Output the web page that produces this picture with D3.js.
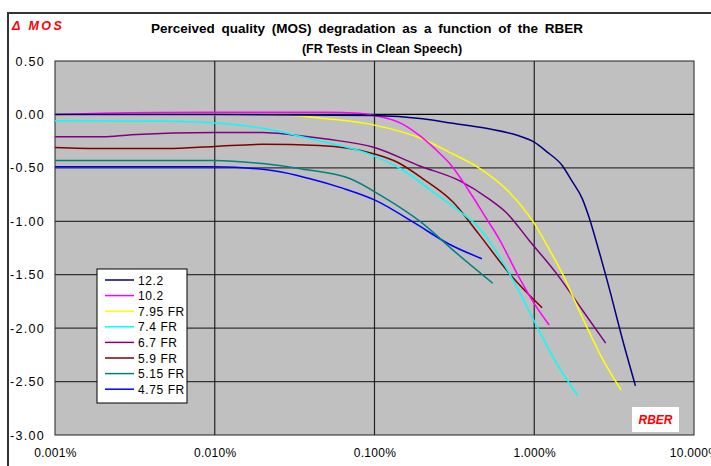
<!DOCTYPE html>
<html>
<head>
<meta charset="utf-8">
<script src="https://cdn.jsdelivr.net/npm/d3@7"></script>
<style>
  body { margin: 0; background: #fff; }
  text { font-family: "Liberation Sans", Arial, sans-serif; }
</style>
</head>
<body>
<svg id="chart" width="711" height="466"></svg>
<script>
// series names (legend order)
const seriesNames = ['12.2', '10.2', '7.95 FR', '7.4 FR', '6.7 FR', '5.9 FR', '5.15 FR', '4.75 FR'];
const seriesColors = ['#000080', '#ff00ff', '#ffff00', '#00ffff', '#800080', '#800000', '#008080', '#0000ff'];

// RBER (%) and delta MOS
const rber122 = [0.001, 0.01, 0.1, 0.2, 0.3, 0.5, 0.8, 1, 1.2, 1.5, 1.7, 2, 2.2, 2.5, 3, 3.5, 4.3];
const mos122  = [0, 0, -0.01, -0.04, -0.08, -0.13, -0.2, -0.26, -0.35, -0.48, -0.61, -0.79, -0.96, -1.24, -1.67, -2.06, -2.54];

const rber102 = [0.001, 0.002, 0.01, 0.05, 0.08, 0.1, 0.15, 0.2, 0.25, 0.3, 0.4, 0.5, 0.6, 0.8, 1, 1.24];
const mos102  = [0, 0.01, 0.02, 0.02, 0.01, -0.01, -0.09, -0.22, -0.35, -0.47, -0.74, -0.97, -1.16, -1.52, -1.77, -1.97];

const rber795 = [0.001, 0.01, 0.03, 0.05, 0.1, 0.2, 0.3, 0.45, 0.7, 1, 1.25, 1.5, 2, 2.7, 3.5];
const mos795  = [0, 0, -0.01, -0.04, -0.1, -0.23, -0.36, -0.5, -0.73, -1.02, -1.27, -1.49, -1.9, -2.3, -2.58];

const rber74 = [0.001, 0.005, 0.01, 0.02, 0.04, 0.1, 0.15, 0.25, 0.35, 0.45, 0.7, 0.8, 1.07, 1.38, 1.87];
const mos74  = [-0.06, -0.065, -0.08, -0.13, -0.23, -0.39, -0.52, -0.76, -0.92, -1.06, -1.49, -1.65, -2.02, -2.33, -2.63];

const rber67 = [0.001, 0.002, 0.003, 0.01, 0.02, 0.03, 0.05, 0.1, 0.19, 0.34, 0.52, 0.67, 0.93, 1.38, 2, 2.8];
const mos67  = [-0.21, -0.21, -0.19, -0.17, -0.17, -0.19, -0.23, -0.31, -0.48, -0.62, -0.79, -0.92, -1.18, -1.49, -1.83, -2.14];

const rber59 = [0.001, 0.002, 0.005, 0.01, 0.02, 0.045, 0.1, 0.14, 0.2, 0.31, 0.45, 0.7, 1.12];
const mos59  = [-0.31, -0.32, -0.32, -0.3, -0.28, -0.29, -0.37, -0.45, -0.6, -0.82, -1.12, -1.49, -1.81];

const rber515 = [0.001, 0.01, 0.02, 0.035, 0.07, 0.11, 0.2, 0.31, 0.55];
const mos515  = [-0.43, -0.43, -0.46, -0.51, -0.6, -0.76, -1.02, -1.27, -1.58];

const rber475 = [0.001, 0.01, 0.024, 0.039, 0.063, 0.1, 0.18, 0.29, 0.47];
const mos475  = [-0.49, -0.49, -0.53, -0.6, -0.69, -0.8, -1.02, -1.21, -1.35];

const xTicks = [0.001, 0.01, 0.1, 1, 10];
const yTicks = [0.5, 0, -0.5, -1, -1.5, -2, -2.5, -3];

const rberSets = [rber122, rber102, rber795, rber74, rber67, rber59, rber515, rber475];
const mosSets  = [mos122, mos102, mos795, mos74, mos67, mos59, mos515, mos475];

const series = seriesNames.map((name, i) => ({
  name: name,
  color: seriesColors[i],
  values: rberSets[i].map((r, j) => ({ r: r, m: mosSets[i][j] }))
}));

const margin = {top: 61, right: 17, bottom: 31, left: 55};
const W = 711, H = 466;

const svg = d3.select('#chart');

// outer chart frame
svg.append('path')
  .attr('d', 'M8,466 V13 H711')
  .attr('fill', 'none')
  .attr('stroke', '#333')
  .attr('stroke-width', 2);

const x = d3.scaleLog()
  .domain([0.001, 10])
  .range([margin.left, W - margin.right]);

const y = d3.scaleLinear()
  .domain([-3, 0.5])
  .range([H - margin.bottom, margin.top]);

// plot background
svg.append('rect')
  .attr('x', x(0.001))
  .attr('y', y(0.5))
  .attr('width', x(10) - x(0.001))
  .attr('height', y(-3) - y(0.5))
  .attr('fill', '#c0c0c0');

// grid
svg.append('g')
  .selectAll('line')
  .data(yTicks.slice(1, -1))
  .join('line')
    .attr('x1', x(0.001))
    .attr('x2', x(10))
    .attr('y1', d => y(d))
    .attr('y2', d => y(d))
    .attr('stroke', d => d === 0 ? '#000' : '#333')
    .attr('stroke-width', 1.2);

svg.append('g')
  .selectAll('line')
  .data(xTicks.slice(1, -1))
  .join('line')
    .attr('x1', d => x(d))
    .attr('x2', d => x(d))
    .attr('y1', y(0.5))
    .attr('y2', y(-3))
    .attr('stroke', '#222')
    .attr('stroke-width', 1.2);

// plot border
svg.append('rect')
  .attr('x', x(0.001))
  .attr('y', y(0.5))
  .attr('width', x(10) - x(0.001))
  .attr('height', y(-3) - y(0.5))
  .attr('fill', 'none')
  .attr('stroke', '#222')
  .attr('stroke-width', 1);

// axes
const xAxis = svg.append('g')
  .attr('transform', 'translate(0,' + y(-3) + ')')
  .call(d3.axisBottom(x)
    .tickValues(xTicks)
    .tickSize(0)
    .tickPadding(13)
    .tickFormat(d => d.toFixed(3) + '%'));
xAxis.select('.domain').remove();
xAxis.selectAll('text')
  .attr('font-size', 12)
  .attr('fill', '#000')
  .attr('letter-spacing', 0.3)
  .style('font-family', '"Liberation Sans", Arial, sans-serif');

const yAxis = svg.append('g')
  .attr('transform', 'translate(' + x(0.001) + ',0)')
  .call(d3.axisLeft(y)
    .tickValues(yTicks)
    .tickSize(0)
    .tickPadding(10)
    .tickFormat(d => d.toFixed(2)));
yAxis.select('.domain').remove();
yAxis.selectAll('text')
  .attr('font-size', 12.5)
  .attr('fill', '#000')
  .attr('letter-spacing', 1.3)
  .style('font-family', '"Liberation Sans", Arial, sans-serif');

// curves
const line = d3.line()
  .x(d => x(d.r))
  .y(d => y(d.m))
  .curve(d3.curveMonotoneX);

svg.append('g')
  .selectAll('path')
  .data(series.slice().reverse())
  .join('path')
    .attr('fill', 'none')
    .attr('stroke', d => d.color)
    .attr('stroke-width', 1.5)
    .attr('d', d => line(d.values));

// title
svg.append('text')
  .attr('x', 367)
  .attr('y', 33)
  .attr('text-anchor', 'middle')
  .attr('font-size', 13.5)
  .attr('font-weight', 'bold')
  .attr('word-spacing', 3)
  .text('Perceived quality (MOS) degradation as a function of the RBER');
svg.append('text')
  .attr('x', 382)
  .attr('y', 53)
  .attr('text-anchor', 'middle')
  .attr('font-size', 12.5)
  .attr('font-weight', 'bold')
  .text('(FR Tests in Clean Speech)');

// axis titles
svg.append('text')
  .attr('x', 12)
  .attr('y', 30)
  .attr('font-size', 12.5)
  .attr('font-weight', 'bold')
  .attr('font-style', 'italic')
  .attr('fill', '#ff0000')
  .attr('letter-spacing', 2.5)
  .text('\u0394  MOS');

svg.append('rect')
  .attr('x', 632)
  .attr('y', 407)
  .attr('width', 47)
  .attr('height', 25)
  .attr('fill', '#fff');
svg.append('text')
  .attr('x', 655.5)
  .attr('y', 424)
  .attr('text-anchor', 'middle')
  .attr('font-size', 12)
  .attr('font-weight', 'bold')
  .attr('font-style', 'italic')
  .attr('fill', '#ff0000')
  .text('RBER');

// legend
const legend = svg.append('g').attr('transform', 'translate(97,269)');
legend.append('rect')
  .attr('width', 90)
  .attr('height', 134)
  .attr('fill', '#fff')
  .attr('stroke', '#000')
  .attr('stroke-width', 1);

const item = legend.selectAll('g.item')
  .data(series)
  .join('g')
    .attr('class', 'item')
    .attr('transform', (d, i) => 'translate(0,' + (11 + i * 15.6) + ')');
item.append('line')
  .attr('x1', 8)
  .attr('x2', 37)
  .attr('stroke', d => d.color)
  .attr('stroke-width', 1.5);
item.append('text')
  .attr('x', 41)
  .attr('y', 4.5)
  .attr('font-size', 12)
  .attr('letter-spacing', 0.6)
  .text(d => d.name);
</script>
</body>
</html>
